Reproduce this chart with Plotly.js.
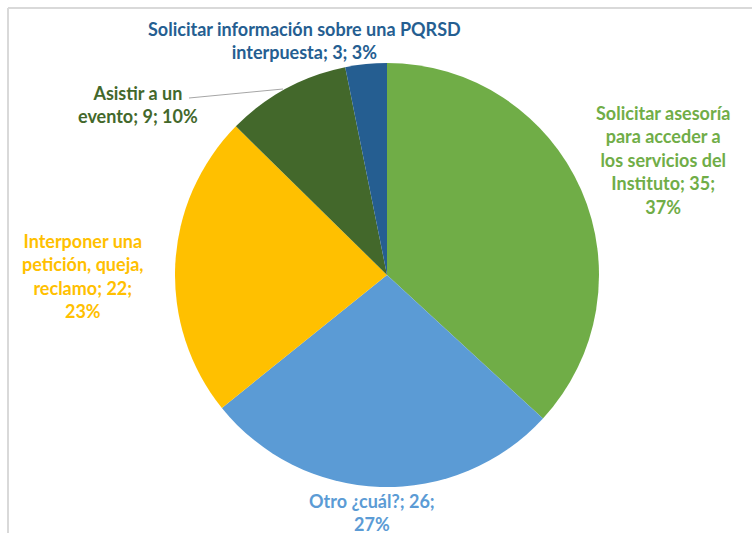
<!DOCTYPE html>
<html>
<head>
<meta charset="utf-8">
<script src="https://cdn.plot.ly/plotly-3.0.1.min.js"></script>
<style>html,body{margin:0;padding:0;background:#fff;}#chart{width:752px;height:533px;}</style>
</head>
<body>
<div id="chart"></div>
<script>
// Data
const categories = [
  "Solicitar asesoría para acceder a los servicios del Instituto",
  "Otro ¿cuál?",
  "Interponer una petición, queja, reclamo",
  "Asistir a un evento",
  "Solicitar información sobre una PQRSD interpuesta"
];
const values = [35, 26, 22, 9, 3];
const pctLabels = ["37%", "27%", "23%", "10%", "3%"];
const colors = ["#70AD47", "#5B9BD5", "#FFC000", "#43682B", "#255E91"];
// words per line for each label
const lineWords = [[2,3,3,2,1],[3,1],[2,2,2,1],[3,3],[5,3]];
// label block centers (pixels)
const labelPos = [[663,160],[372,512.5],[83,276],[138,104.5],[304,41]];

const W = 752, H = 533;
function wrap(text, counts){
  const words = text.split(" ");
  const lines = []; let k = 0;
  counts.forEach(c => { lines.push(words.slice(k, k + c).join(" ")); k += c; });
  return lines.join("<br>");
}

const annotations = categories.map((c, i) => ({
  xref: "paper", yref: "paper",
  x: labelPos[i][0] / W, y: 1 - labelPos[i][1] / H,
  xanchor: "center", yanchor: "middle", align: "center",
  showarrow: false,
  text: "<b>" + wrap(c + "; " + values[i] + "; " + pctLabels[i], lineWords[i]) + "</b>",
  font: {family: "Lato, 'Open Sans', sans-serif", size: 18, color: colors[i]}
}));

const cx = 387, cy = 275, r = 212;
const trace = {
  type: "pie",
  labels: categories,
  values: values,
  sort: false,
  direction: "clockwise",
  rotation: 0,
  marker: {colors: colors, line: {width: 0}},
  textinfo: "none",
  showlegend: false,
  domain: {x: [(cx - r) / W, (cx + r) / W], y: [1 - (cy + r) / H, 1 - (cy - r) / H]}
};

const layout = {
  width: W, height: H,
  margin: {l: 0, r: 0, t: 0, b: 0},
  paper_bgcolor: "#fff",
  annotations: annotations,
  shapes: [
    {type: "line", xref: "paper", yref: "paper", x0: 8/W, x1: 8/W, y0: 0, y1: 1 - 8/H, line: {color: "#d9d9d9", width: 2}},
    {type: "line", xref: "paper", yref: "paper", x0: 8/W, x1: 1, y0: 1 - 8/H, y1: 1 - 8/H, line: {color: "#d9d9d9", width: 2}},
    {type: "line", xref: "paper", yref: "paper", x0: 189/W, x1: 283/W, y0: 1 - 98/H, y1: 1 - 89/H, line: {color: "#a6a6a6", width: 1}}
  ]
};

Plotly.newPlot("chart", [trace], layout, {displayModeBar: false, staticPlot: true});
</script>
</body>
</html>
